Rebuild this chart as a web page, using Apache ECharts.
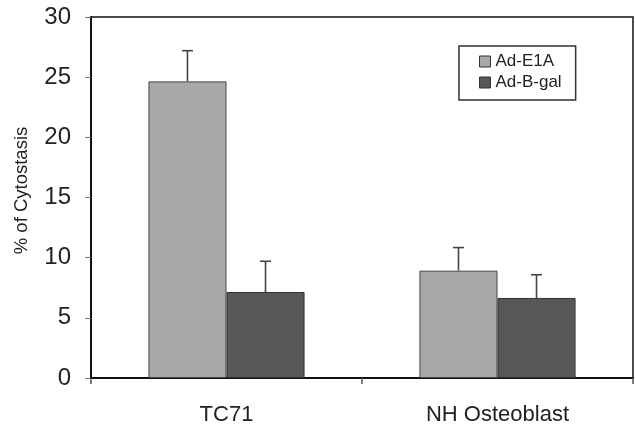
<!DOCTYPE html>
<html>
<head>
<meta charset="utf-8">
<script src="https://cdn.jsdelivr.net/npm/echarts@6/dist/echarts.min.js"></script>
<style>html,body{margin:0;padding:0;background:#fff}#c{width:635px;height:428px}</style>
</head>
<body>
<div id="c"></div>
<script>
var categories = ['TC71', 'NH Osteoblast'];
var seriesNames = ['Ad-E1A', 'Ad-B-gal'];
var e1aValues = [24.65, 8.92];
var e1aErrors = [2.55, 1.92];
var bgalValues = [7.15, 6.65];
var bgalErrors = [2.55, 1.93];
var yTicks = [0, 5, 10, 15, 20, 25, 30];

var BAR_FRAC = 0.288;
var FONT = 'Liberation Sans, Arial, sans-serif';
var chart = echarts.init(document.getElementById('c'), null, {renderer: 'canvas'});

function errSeries(values, errors, side) {
  return {
    type: 'custom',
    silent: true,
    z: 1,
    data: values.map(function (v, i) { return [i, v, v + errors[i]]; }),
    renderItem: function (params, api) {
      var band = api.size([1, 0])[0];
      var off = side * band * BAR_FRAC / 2;
      var p0 = api.coord([api.value(0), api.value(1)]);
      var p1 = api.coord([api.value(0), api.value(2)]);
      var x = p0[0] + off;
      var cap = 5.5;
      var st = {stroke: '#444', lineWidth: 1.6};
      return {
        type: 'group',
        children: [
          {type: 'line', shape: {x1: x, y1: p0[1], x2: x, y2: p1[1]}, style: st},
          {type: 'line', shape: {x1: x - cap, y1: p1[1], x2: x + cap, y2: p1[1]}, style: st}
        ]
      };
    },
    encode: {x: 0, y: [1, 2]}
  };
}

chart.setOption({
  animation: false,
  backgroundColor: '#fff',
  grid: {left: 91, right: 2, top: 17, bottom: 50, show: true, borderColor: '#111', borderWidth: 1.5, backgroundColor: 'transparent'},
  legend: {
    orient: 'vertical',
    left: 459, top: 46,
    padding: [7, 14, 9, 20],
    borderColor: '#333', borderWidth: 1.5,
    itemWidth: 11, itemHeight: 11, itemGap: 4,
    data: seriesNames.map(function (n) { return {name: n, icon: 'rect'}; }),
    textStyle: {fontFamily: FONT, fontSize: 17, color: '#222', lineHeight: 17},
    itemStyle: {borderColor: '#333', borderWidth: 1}
  },
  xAxis: {
    type: 'category',
    data: categories,
    axisLine: {lineStyle: {color: '#111', width: 2}},
    axisTick: {show: true, length: 6, lineStyle: {color: '#555', width: 1.5}},
    axisLabel: {fontFamily: FONT, fontSize: 22, color: '#222', margin: 26}
  },
  yAxis: {
    type: 'value',
    min: 0, max: 30, interval: 5,
    name: '% of Cytostasis',
    nameLocation: 'middle',
    nameGap: 60,
    nameRotate: 90,
    nameTextStyle: {fontFamily: FONT, fontSize: 18.5, color: '#222', padding: [0, 0, 0, 14]},
    axisLine: {show: true, lineStyle: {color: '#111', width: 2}},
    axisTick: {show: true, length: 6, lineStyle: {color: '#777', width: 1}},
    splitLine: {show: false},
    axisLabel: {fontFamily: FONT, fontSize: 24, color: '#222', margin: 20,
      formatter: function (v) { return yTicks.indexOf(v) >= 0 ? String(v) : ''; }}
  },
  series: [
    {name: seriesNames[0], type: 'bar', data: e1aValues, barWidth: (BAR_FRAC * 100) + '%', barGap: '0%', z: 2,
      itemStyle: {color: '#a8a8a8', borderColor: '#444', borderWidth: 1}},
    {name: seriesNames[1], type: 'bar', data: bgalValues, barWidth: (BAR_FRAC * 100) + '%', barGap: '0%', z: 2,
      itemStyle: {color: '#575757', borderColor: '#333', borderWidth: 1}},
    errSeries(e1aValues, e1aErrors, -1),
    errSeries(bgalValues, bgalErrors, 1)
  ]
});
</script>
</body>
</html>
